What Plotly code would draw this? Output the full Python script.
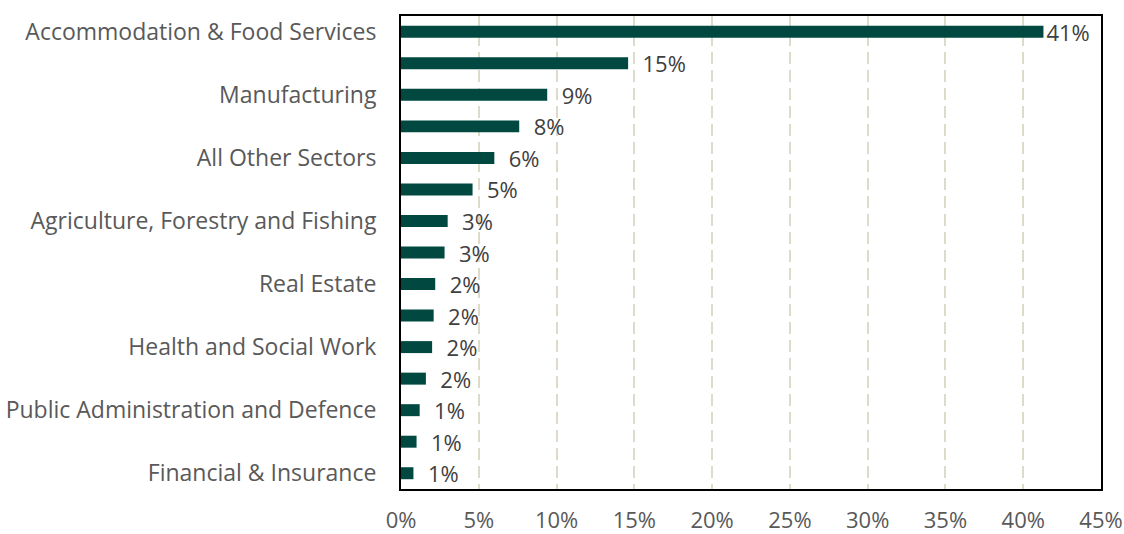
import plotly.graph_objects as go

# Share of total by sector (fraction), largest first
sectors = [
    "Accommodation & Food Services",
    "Wholesale & Retail Trade",
    "Manufacturing",
    "Construction",
    "All Other Sectors",
    "Administrative & Support Services",
    "Agriculture, Forestry and Fishing",
    "Professional, Scientific & Technical",
    "Real Estate",
    "Transport & Storage",
    "Health and Social Work",
    "Information & Communication",
    "Public Administration and Defence",
    "Education",
    "Financial & Insurance",
]
shares = [0.413, 0.146, 0.094, 0.076, 0.060, 0.046, 0.030, 0.028,
          0.022, 0.021, 0.020, 0.016, 0.012, 0.010, 0.008]

# Only every other sector name is printed on the axis
labelled = sectors[::2]
x_ticks = [0, 0.05, 0.10, 0.15, 0.20, 0.25, 0.30, 0.35, 0.40, 0.45]

BAR = "#004840"
FONT = "Open Sans, Noto Sans, sans-serif"
GAP = "\u00a0\u00a0"
templates = ["%{x:.0%}"] + [GAP + "%{x:.0%}"] * (len(shares) - 1)

fig = go.Figure(
    go.Bar(
        x=shares,
        y=sectors,
        orientation="h",
        marker=dict(color=BAR, line=dict(width=0)),
        texttemplate=templates,
        textposition="outside",
        constraintext="none",
        textfont=dict(family=FONT, size=22, color="#404040"),
        cliponaxis=False,
        hoverinfo="skip",
    )
)

fig.update_layout(
    width=1124,
    height=534,
    margin=dict(l=401, r=23, t=16, b=45),
    paper_bgcolor="white",
    plot_bgcolor="white",
    bargap=0.62,
    showlegend=False,
    font=dict(family=FONT, size=22, color="#595959"),
)

fig.update_xaxes(
    range=[0, 0.45],
    tickvals=x_ticks,
    tickformat=".0%",
    showgrid=True,
    gridcolor="#dedbca",
    gridwidth=2,
    griddash="12px,6px",
    zeroline=False,
    showline=True,
    linecolor="black",
    linewidth=2,
    mirror=True,
    ticks="",
    ticklabelstandoff=11,
    automargin=False,
    tickfont=dict(family=FONT, size=22, color="#595959"),
)

fig.update_yaxes(
    type="category",
    categoryorder="array",
    categoryarray=sectors[::-1],
    tickmode="array",
    tickvals=labelled,
    ticktext=labelled,
    showgrid=False,
    zeroline=False,
    showline=True,
    linecolor="black",
    linewidth=2,
    mirror=True,
    ticks="",
    ticklabelstandoff=18,
    automargin=False,
    tickfont=dict(family=FONT, size=23, color="#595959"),
)

fig.write_html("out.html")
